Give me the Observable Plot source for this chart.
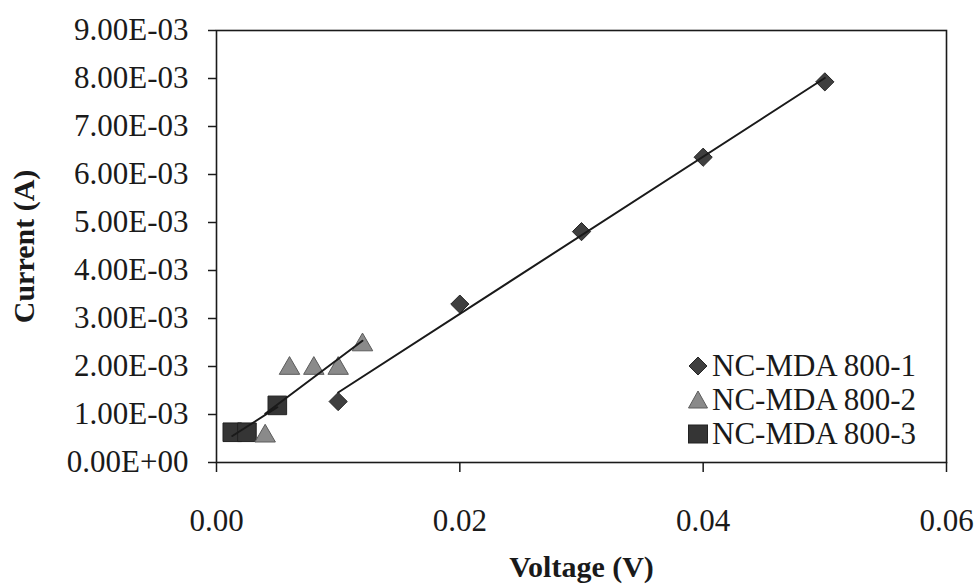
<!DOCTYPE html>
<html>
<head>
<meta charset="utf-8">
<script src="https://cdn.jsdelivr.net/npm/d3@7"></script>
<script src="https://cdn.jsdelivr.net/npm/@observablehq/plot@0.6"></script>
<style>
  html, body { margin: 0; padding: 0; background: #fff; }
  #wrap { position: relative; width: 977px; height: 585px; }
  #legend { position: absolute; left: 686px; top: 349px; font-family: 'Liberation Serif', 'Times New Roman', serif; font-size: 31px; color: #1a1a1a; }
  #legend .row { display: flex; align-items: center; height: 34px; line-height: 34px; white-space: nowrap; }
  #legend svg { width: 24px; height: 24px; margin-right: 2px; }
</style>
</head>
<body>
<div id="wrap"></div>
<script>
// Series names
const seriesNames = ["NC-MDA 800-1", "NC-MDA 800-2", "NC-MDA 800-3"];

// NC-MDA 800-1 (diamonds)
const volt1 = [0.01, 0.02, 0.03, 0.04, 0.05];
const curr1 = [0.00127, 0.00330, 0.00481, 0.00636, 0.00793];

// NC-MDA 800-2 (triangles)
const volt2 = [0.004, 0.006, 0.008, 0.010, 0.012];
const curr2 = [0.00055, 0.00196, 0.00196, 0.00196, 0.00245];

// NC-MDA 800-3 (squares)
const volt3 = [0.0013, 0.0025, 0.005];
const curr3 = [0.00063, 0.00063, 0.00119];

// Tick values
const xTicks = [0, 0.02, 0.04, 0.06];
const yTicks = [0, 0.001, 0.002, 0.003, 0.004, 0.005, 0.006, 0.007, 0.008, 0.009];

const xTitle = "Voltage (V)";
const yTitle = "Current (A)";

const toRows = (xs, ys) => xs.map((x, i) => ({x, y: ys[i]}));
const d1 = toRows(volt1, curr1);
const d2 = toRows(volt2, curr2);
const d3s = toRows(volt3, curr3);

const sci = d => {
  if (d === 0) return "0.00E+00";
  const e = Math.floor(Math.log10(Math.abs(d)) + 1e-9);
  const m = d / Math.pow(10, e);
  return m.toFixed(2) + "E" + (e < 0 ? "-" : "+") + String(Math.abs(e)).padStart(2, "0");
};

const ink = "#1a1a1a";
const serif = "'Liberation Serif', 'Times New Roman', serif";

const chart = Plot.plot({
  width: 977,
  height: 585,
  marginLeft: 216,
  marginRight: 31,
  marginTop: 30,
  marginBottom: 123,
  style: {fontFamily: serif, fontSize: "31px", color: ink, background: "white"},
  x: {domain: [0, 0.06]},
  y: {domain: [0, 0.009]},
  marks: [
    Plot.frame({stroke: ink, strokeWidth: 1.6}),
    Plot.axisY({ticks: yTicks, tickFormat: sci, tickSize: 8, tickPadding: 20, label: null, fontSize: 31, strokeWidth: 1.5}),
    Plot.axisX({ticks: xTicks, tickFormat: d => d.toFixed(2), tickSize: 10, tickPadding: 36, label: null, fontSize: 31, strokeWidth: 1.5}),
    Plot.dot(d3s, {x: "x", y: "y", symbol: "square", r: 10.5, fill: "#353535", stroke: "#222", strokeWidth: 1}),
    Plot.dot(d2, {x: "x", y: "y", symbol: "triangle", r: 7.6, fill: "#8a8a8a", stroke: "#5c5c5c", strokeWidth: 1}),
    Plot.dot(d1, {x: "x", y: "y", symbol: "diamond2", r: 8.2, fill: "#3f3f3f", stroke: "#262626", strokeWidth: 1}),
    Plot.linearRegressionY(d1, {x: "x", y: "y", ci: 0, stroke: ink, strokeWidth: 2}),
    Plot.linearRegressionY(d2, {x: "x", y: "y", ci: 0, stroke: ink, strokeWidth: 2}),
    Plot.linearRegressionY(d3s, {x: "x", y: "y", ci: 0, stroke: ink, strokeWidth: 2}),
    Plot.text([xTitle], {frameAnchor: "bottom", dy: 105, fontWeight: "bold", fontSize: 30, lineAnchor: "middle", fill: ink}),
    Plot.text([yTitle], {frameAnchor: "left", dx: -192, rotate: -90, fontWeight: "bold", fontSize: 30, lineAnchor: "middle", textAnchor: "middle", fill: ink})
  ]
});

const wrap = document.getElementById("wrap");
wrap.appendChild(chart);

// Legend
const symbolsSvg = [
  '<polygon points="12,3 21,12 12,21 3,12" fill="#3f3f3f" stroke="#262626" stroke-width="1"/>',
  '<polygon points="12,3 21.5,20 2.5,20" fill="#8a8a8a" stroke="#5c5c5c" stroke-width="1"/>',
  '<rect x="2.5" y="3" width="19" height="18" fill="#353535" stroke="#222" stroke-width="1"/>'
];
const legend = document.createElement("div");
legend.id = "legend";
seriesNames.forEach((name, i) => {
  const row = document.createElement("div");
  row.className = "row";
  row.innerHTML = '<svg viewBox="0 0 24 24">' + symbolsSvg[i] + '</svg><span>' + name + '</span>';
  legend.appendChild(row);
});
wrap.appendChild(legend);
</script>
</body>
</html>
